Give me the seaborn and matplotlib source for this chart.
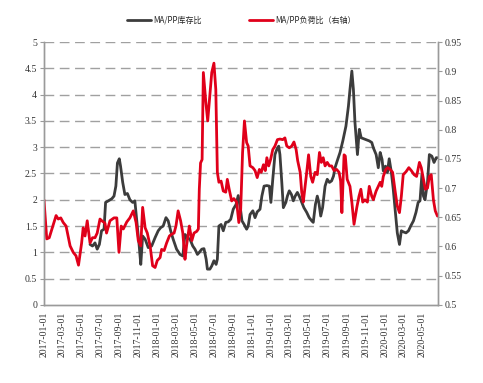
import numpy as np
import pandas as pd
import matplotlib
matplotlib.use("Agg")
import matplotlib.pyplot as plt
import matplotlib.dates as mdates
from matplotlib.ticker import MultipleLocator, FuncFormatter
import seaborn as sns

# day offsets from 2017-01-01
START = "2017-01-01"

stock_days = [148, 156, 164, 171, 178, 185, 193, 198, 207, 218, 225, 231, 236, 242, 246, 253,
              260, 268, 276, 285, 292, 300, 306, 311, 317, 325, 335, 346, 357, 367, 375, 383,
              392, 399, 407, 415, 426, 437, 446, 453, 460, 469, 478, 485, 493, 499, 507, 514,
              521, 525, 533, 539, 546, 553, 557, 562, 569, 576, 584, 592, 600, 608, 617, 624,
              632, 636, 643, 651, 656, 662, 671, 678, 685, 694, 700, 707, 716, 724, 729, 735,
              742, 748, 754, 758, 764, 769, 777, 782, 788, 795, 801, 807, 814, 820, 828, 835,
              844, 852, 860, 865, 872, 878, 883, 889, 895, 903, 910, 917, 924, 930, 935, 942,
              951, 960, 970, 978, 983, 989, 994, 999, 1007, 1013, 1019, 1028, 1037, 1045, 1053,
              1058, 1067, 1074, 1080, 1086, 1090, 1097, 1103, 1109, 1116, 1122, 1129, 1135, 1142,
              1148, 1154, 1163, 1171, 1178, 1187, 1195, 1202, 1208, 1214, 1219, 1224, 1232, 1238,
              1246, 1253, 1260, 1264]
stock_ratio = [1.15, 1.12, 1.18, 1.06, 1.15, 1.41, 1.44, 1.95, 1.98, 2.02, 2.07, 2.26, 2.70, 2.78,
               2.64, 2.33, 2.10, 2.12, 2.00, 1.95, 1.98, 1.50, 1.12, 0.77, 1.31, 1.25, 1.09, 1.12,
               1.28, 1.41, 1.47, 1.50, 1.66, 1.60, 1.41, 1.25, 1.06, 0.96, 0.93, 1.34, 1.28, 1.25,
               1.12, 1.06, 0.96, 1.00, 1.06, 1.07, 0.87, 0.68, 0.68, 0.74, 0.84, 0.77, 0.87, 1.50,
               1.53, 1.41, 1.57, 1.58, 1.63, 1.82, 1.91, 2.08, 1.79, 1.60, 1.53, 1.44, 1.50, 1.72,
               1.79, 1.66, 1.77, 1.82, 2.07, 2.26, 2.27, 2.26, 1.95, 2.39, 2.86, 2.96, 3.02, 2.86,
               2.33, 1.85, 1.95, 2.07, 2.17, 2.10, 1.98, 2.07, 2.14, 2.07, 1.95, 1.85, 1.76, 1.66,
               1.60, 1.57, 1.91, 2.07, 1.95, 1.69, 1.85, 2.26, 2.39, 2.33, 2.36, 2.45, 2.61, 2.74,
               2.90, 3.12, 3.40, 3.78, 4.10, 4.45, 4.10, 3.47, 2.86, 3.34, 3.18, 3.16, 3.14, 3.12,
               3.09, 2.99, 2.86, 2.61, 2.90, 2.77, 2.55, 2.64, 2.52, 2.78, 2.52, 2.20, 1.76, 1.37,
               1.15, 1.41, 1.39, 1.37, 1.41, 1.50, 1.60, 1.76, 1.95, 1.98, 2.48, 2.07, 2.00, 2.33,
               2.86, 2.83, 2.71, 2.80, 2.80]

load_days = [0, 9, 17, 39, 46, 54, 62, 71, 84, 94, 103, 111, 121, 126, 132, 139, 148, 156, 164,
             171, 180, 186, 196, 201, 212, 225, 234, 241, 248, 255, 266, 276, 287, 296, 303, 311,
             317, 325, 332, 341, 349, 357, 364, 373, 378, 386, 394, 403, 410, 418, 424, 431, 439,
             446, 453, 458, 467, 475, 482, 491, 496, 499, 503, 508, 512, 520, 526, 533, 539, 546,
             552, 557, 562, 569, 576, 584, 589, 595, 603, 610, 619, 626, 632, 638, 644, 651, 656,
             662, 671, 678, 685, 692, 698, 705, 711, 716, 722, 728, 735, 742, 750, 758, 767, 774,
             780, 788, 796, 803, 810, 815, 823, 828, 833, 839, 844, 850, 857, 863, 871, 878, 885,
             891, 897, 903, 910, 917, 924, 932, 940, 948, 953, 957, 964, 968, 974, 983, 989, 996,
             1005, 1012, 1018, 1024, 1031, 1039, 1045, 1053, 1058, 1067, 1074, 1080, 1085, 1090,
             1098, 1104, 1112, 1120, 1128, 1135, 1142, 1148, 1154, 1163, 1172, 1180, 1189, 1197,
             1206, 1212, 1219, 1225, 1232, 1238, 1244, 1251, 1257, 1264]
load_ratio = [0.680, 0.613, 0.615, 0.653, 0.647, 0.649, 0.641, 0.635, 0.601, 0.590, 0.584, 0.568,
              0.606, 0.632, 0.618, 0.644, 0.606, 0.615, 0.615, 0.623, 0.647, 0.644, 0.640, 0.623,
              0.644, 0.649, 0.649, 0.590, 0.635, 0.630, 0.642, 0.649, 0.661, 0.641, 0.610, 0.601,
              0.667, 0.632, 0.623, 0.601, 0.567, 0.564, 0.576, 0.581, 0.595, 0.593, 0.606, 0.618,
              0.621, 0.623, 0.635, 0.661, 0.644, 0.623, 0.578, 0.601, 0.635, 0.610, 0.623, 0.626,
              0.630, 0.698, 0.743, 0.749, 0.898, 0.847, 0.815, 0.860, 0.898, 0.914, 0.869, 0.727,
              0.710, 0.712, 0.695, 0.693, 0.715, 0.698, 0.678, 0.682, 0.676, 0.641, 0.664, 0.761,
              0.815, 0.778, 0.772, 0.738, 0.735, 0.730, 0.718, 0.732, 0.727, 0.740, 0.730, 0.752,
              0.738, 0.749, 0.766, 0.772, 0.783, 0.784, 0.783, 0.786, 0.772, 0.769, 0.772, 0.779,
              0.766, 0.747, 0.727, 0.693, 0.676, 0.703, 0.727, 0.757, 0.720, 0.710, 0.727, 0.723,
              0.761, 0.744, 0.752, 0.738, 0.744, 0.738, 0.738, 0.730, 0.732, 0.727, 0.712, 0.658,
              0.757, 0.755, 0.715, 0.703, 0.676, 0.638, 0.667, 0.686, 0.698, 0.676, 0.680, 0.676,
              0.703, 0.686, 0.680, 0.695, 0.703, 0.710, 0.703, 0.720, 0.732, 0.735, 0.732, 0.727,
              0.695, 0.669, 0.658, 0.686, 0.723, 0.728, 0.735, 0.730, 0.723, 0.720, 0.744, 0.735,
              0.715, 0.698, 0.700, 0.720, 0.723, 0.680, 0.661, 0.652]

stock_label = "MA/PP库存比"
load_label = "MA/PP负荷比（右轴）"

start = pd.Timestamp(START)
stock = pd.DataFrame({"date": start + pd.to_timedelta(stock_days, unit="D"), "val": stock_ratio})
load = pd.DataFrame({"date": start + pd.to_timedelta(load_days, unit="D"), "val": load_ratio})

sns.set_style("white")
plt.rcParams["font.family"] = ["Liberation Serif", "Noto Sans CJK SC", "DejaVu Sans"]

fig = plt.figure(figsize=(4.83, 3.83), dpi=100)
ax = fig.add_axes([0.091, 0.204, 0.816, 0.686])
ax2 = ax.twinx()

sns.lineplot(data=stock, x="date", y="val", ax=ax, color="#3c3c3c", linewidth=2.0, label=stock_label)
sns.lineplot(data=load, x="date", y="val", ax=ax2, color="#e0001a", linewidth=2.0, label=load_label)

ax.set_ylim(0, 5)
ax2.set_ylim(0.5, 0.95)
ax.set_xlim(start, start + pd.Timedelta(days=1266))

ax.yaxis.set_major_locator(MultipleLocator(0.5))
ax2.yaxis.set_major_locator(MultipleLocator(0.05))
fmt = FuncFormatter(lambda v, p: f"{v:.2f}".rstrip("0").rstrip("."))
ax.yaxis.set_major_formatter(fmt)
ax2.yaxis.set_major_formatter(fmt)

ax.xaxis.set_major_locator(mdates.MonthLocator(bymonth=[1, 3, 5, 7, 9, 11]))
ax.xaxis.set_major_formatter(mdates.DateFormatter("%Y-%m-%d"))
for lbl in ax.get_xticklabels():
    lbl.set_rotation(90)

for y in np.arange(0.5, 5.01, 0.5):
    ax.axhline(y, color="#a0a0a0", linewidth=1.0, dashes=(7, 4), zorder=0)

for a in (ax, ax2):
    a.set_xlabel("")
    a.set_ylabel("")
    a.spines["top"].set_visible(False)
    for s in ("left", "right", "bottom"):
        a.spines[s].set_color("#9a9a9a")
        a.spines[s].set_linewidth(1.0)
    a.tick_params(labelsize=7, colors="#333333", length=3, width=0.8, pad=2)
    a.tick_params(axis="both", color="#9a9a9a")
    if a.get_legend():
        a.get_legend().remove()
ax.tick_params(axis="x", labelsize=7)

h1, l1 = ax.get_legend_handles_labels()
h2, l2 = ax2.get_legend_handles_labels()
fig.legend(h1 + h2, l1 + l2, loc="center", bbox_to_anchor=(0.5, 0.948), ncol=2, frameon=False,
           handlelength=3.0, columnspacing=5.8, handletextpad=0.3,
           prop={"family": ["Noto Sans CJK SC", "DejaVu Sans"], "size": 5.8})

fig.savefig("out.png", dpi=100)
